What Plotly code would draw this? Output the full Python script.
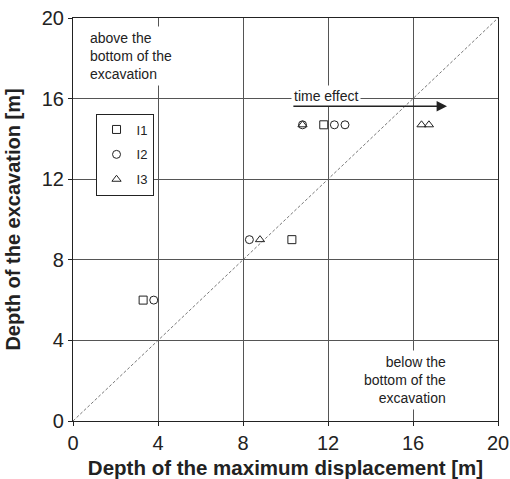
import plotly.graph_objects as go

# Data
i1_x = [3.3, 10.3, 11.8]
i1_y = [6.0, 9.0, 14.7]
i2_x = [3.8, 8.3, 10.8, 12.3, 12.8]
i2_y = [6.0, 9.0, 14.7, 14.7, 14.7]
i3_x = [8.8, 10.8, 16.4, 16.75]
i3_y = [9.0, 14.7, 14.7, 14.7]
diag = [0, 20]
ticks = [0, 4, 8, 12, 16, 20]

FONT = "Liberation Sans, Arial, Helvetica, sans-serif"
INK = "#222"
mk = dict(color=INK, size=8, line=dict(color=INK, width=1))

fig = go.Figure()
fig.add_trace(go.Scatter(x=diag, y=diag, mode="lines", showlegend=False,
                         line=dict(color="#555", width=0.8, dash="3px,2px"), hoverinfo="skip"))
fig.add_trace(go.Scatter(x=i1_x, y=i1_y, mode="markers", name="I1", legendgroup="a",
                         marker=dict(symbol="square-open", **mk)))
fig.add_trace(go.Scatter(x=i2_x, y=i2_y, mode="markers", name="I2", legendgroup="b",
                         marker=dict(symbol="circle-open", **mk)))
fig.add_trace(go.Scatter(x=i3_x, y=i3_y, mode="markers", name="I3", legendgroup="c",
                         marker=dict(symbol="triangle-up-open", **mk)))

axis_common = dict(range=[0, 20], tickvals=ticks, ticks="outside", ticklen=4,
                   tickcolor=INK, showline=True, linecolor=INK, linewidth=1.2,
                   mirror=True, showgrid=True, gridcolor="#555", gridwidth=1,
                   zeroline=False, automargin=False, ticklabeloverflow="allow",
                   tickfont=dict(size=20, color=INK, family=FONT))
fig.update_xaxes(**axis_common,
                 title=dict(text="<b>Depth of the maximum displacement [m]</b>",
                            font=dict(size=20.5, color=INK, family=FONT)))
fig.update_yaxes(**axis_common,
                 title=dict(text="<b>Depth of the excavation [m]</b>",
                            font=dict(size=20, color=INK, family=FONT)))

fig.add_annotation(x=0.6, y=19.6, xref="x", yref="y", xanchor="left", yanchor="top",
                   text="above the<br>bottom of the<br>excavation", showarrow=False,
                   align="left", bgcolor="white", borderpad=3,
                   font=dict(size=14, color=INK, family=FONT))
fig.add_annotation(x=17.75, y=3.5, xref="x", yref="y", xanchor="right", yanchor="top",
                   text="below the<br>bottom of the<br>excavation", showarrow=False,
                   align="right", bgcolor="white", borderpad=3,
                   font=dict(size=14, color=INK, family=FONT))
fig.add_annotation(x=11.9, y=16.15, xref="x", yref="y", xanchor="center", yanchor="middle",
                   text="time effect", showarrow=False, bgcolor="white", borderpad=2,
                   font=dict(size=14, color=INK, family=FONT))
fig.add_annotation(x=17.6, y=15.62, ax=10.3, ay=15.62, xref="x", yref="y",
                   axref="x", ayref="y", text="", showarrow=True,
                   arrowhead=2, arrowsize=1.6, arrowwidth=1.3, arrowcolor=INK)

fig.update_layout(
    width=510, height=479,
    margin=dict(l=73, r=12, t=17.5, b=58),
    paper_bgcolor="white", plot_bgcolor="white",
    font=dict(family=FONT, color=INK),
    legend=dict(x=0.053, y=0.763, xanchor="left", yanchor="top",
                bgcolor="white", bordercolor=INK, borderwidth=1,
                itemwidth=30, tracegroupgap=5, traceorder="grouped",
                font=dict(size=13, color=INK, family=FONT)),
)

fig.write_html("out.html", config={"displayModeBar": False},
               post_script="document.body.style.margin='0';document.body.style.overflow='hidden';")
